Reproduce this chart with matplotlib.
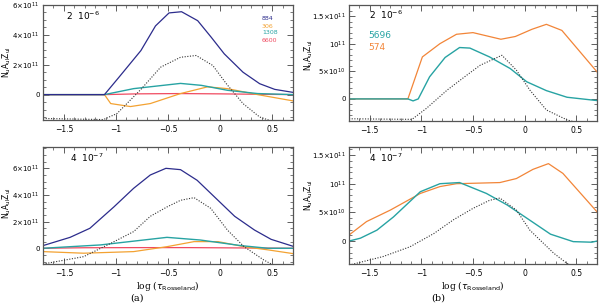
import numpy as np
import matplotlib
matplotlib.use('Agg')
import matplotlib.pyplot as plt
from matplotlib.ticker import MultipleLocator, FixedLocator, FixedFormatter

# ---- panel (a), top: 2 10^-6 ----
a1_blue_x = [-1.7, -1.11, -0.97, -0.76, -0.62, -0.49, -0.37, -0.215, -0.085, 0.04, 0.22, 0.38, 0.525, 0.7]
a1_blue_y = [0, 0, 1.17e11, 2.95e11, 4.6e11, 5.47e11, 5.55e11, 4.95e11, 3.84e11, 2.73e11, 1.5e11, 7.3e10, 3.5e10, 1.5e10]
a1_orange_x = [-1.7, -1.11, -1.05, -0.86, -0.67, -0.38, -0.12, 0.07, 0.36, 0.7]
a1_orange_y = [0, 0, -6e10, -8e10, -6e10, 7e9, 5.2e10, 4e10, 0, -4.2e10]
a1_teal_x = [-1.7, -1.11, -0.83, -0.38, -0.18, 0.07, 0.36, 0.7]
a1_teal_y = [0, 0, 4e10, 7.5e10, 6.2e10, 2.9e10, 7e9, 0]
a1_red_x = [-1.7, -1.1, -0.8, -0.4, 0.0, 0.4, 0.7]
a1_red_y = [0, 0, 5e9, 7e9, 5e9, 2e9, 0]
a1_dot_x = [-1.7, -1.12, -0.99, -0.76, -0.57, -0.38, -0.23, -0.07, 0.06, 0.22, 0.38, 0.49, 0.6]
a1_dot_y = [-1.6e11, -1.67e11, -1.27e11, 3.5e10, 1.84e11, 2.5e11, 2.62e11, 1.95e11, 7.3e10, -6e10, -1.5e11, -1.76e11, -1.9e11]

# ---- panel (a), bottom: 4 10^-7 ----
a2_blue_x = [-1.7, -1.44, -1.25, -1.02, -0.83, -0.67, -0.52, -0.38, -0.22, -0.06, 0.14, 0.33, 0.49, 0.7]
a2_blue_y = [2e10, 8.2e10, 1.5e11, 3.1e11, 4.5e11, 5.5e11, 6e11, 5.9e11, 5.1e11, 3.9e11, 2.4e11, 1.37e11, 6.7e10, 1.5e10]
a2_orange_x = [-1.7, -1.31, -0.83, -0.51, -0.25, -0.02, 0.23, 0.46, 0.7]
a2_orange_y = [-2.5e10, -3.7e10, -2.5e10, 1.2e10, 5e10, 5e10, 1.2e10, -1.2e10, -4e10]
a2_teal_x = [-1.7, -1.15, -0.51, -0.19, 0.2, 0.46, 0.7]
a2_teal_y = [0, 2.5e10, 8.2e10, 6.2e10, 2e10, 0, 0]
a2_red_x = [-1.7, -1.3, -0.8, -0.3, 0.3, 0.7]
a2_red_y = [0, 4e9, 5e9, 5e9, 2e9, 0]
a2_dot_x = [-1.7, -1.31, -1.05, -0.83, -0.67, -0.51, -0.38, -0.25, -0.09, 0.07, 0.23, 0.42, 0.52]
a2_dot_y = [-1.18e11, -6.3e10, 3.7e10, 1.25e11, 2.4e11, 3.1e11, 3.6e11, 3.8e11, 3e11, 1.37e11, 1.2e10, -8.8e10, -1.3e11]

# ---- panel (b), top: 2 10^-6 ----
b1_orange_x = [-1.7, -1.13, -0.99, -0.82, -0.66, -0.5, -0.23, -0.09, 0.07, 0.21, 0.36, 0.7]
b1_orange_y = [0, 0, 7.6e10, 1.0e11, 1.17e11, 1.2e11, 1.08e11, 1.13e11, 1.26e11, 1.35e11, 1.24e11, 4.9e10]
b1_teal_x = [-1.7, -1.13, -1.08, -1.03, -0.92, -0.77, -0.63, -0.53, -0.34, -0.14, 0.02, 0.21, 0.41, 0.7]
b1_teal_y = [0, 0, -3.6e9, 0, 4e10, 7.5e10, 9.3e10, 9.2e10, 7.6e10, 5.5e10, 3.1e10, 1.5e10, 3e9, -3e9]
b1_dot_x = [-1.7, -1.09, -0.95, -0.75, -0.56, -0.43, -0.22, -0.08, 0.05, 0.21, 0.41, 0.55]
b1_dot_y = [-3.6e10, -3.7e10, -1.7e10, 1.6e10, 4.3e10, 6.1e10, 7.9e10, 5.2e10, 1.6e10, -2e10, -3.8e10, -4.5e10]

# ---- panel (b), bottom: 4 10^-7 ----
b2_orange_x = [-1.7, -1.53, -1.3, -1.01, -0.82, -0.66, -0.24, -0.08, 0.08, 0.23, 0.37, 0.7]
b2_orange_y = [1.05e10, 3.4e10, 5.4e10, 8.3e10, 9.5e10, 1e11, 1.02e11, 1.09e11, 1.25e11, 1.35e11, 1.18e11, 5.1e10]
b2_teal_x = [-1.7, -1.59, -1.43, -1.27, -1.01, -0.82, -0.63, -0.37, -0.17, 0.02, 0.25, 0.47, 0.65, 0.7]
b2_teal_y = [0, 5e9, 1.9e10, 4.2e10, 8.6e10, 1e11, 1.02e11, 8.3e10, 6.3e10, 4e10, 1.2e10, -1e9, -2e9, 0]
b2_dot_x = [-1.7, -1.37, -1.11, -0.88, -0.69, -0.5, -0.34, -0.24, -0.08, 0.05, 0.28, 0.41, 0.5]
b2_dot_y = [-4.2e10, -2.7e10, -1e10, 1.3e10, 3.7e10, 5.7e10, 7.1e10, 7.5e10, 5.4e10, 1.9e10, -2.1e10, -3.9e10, -4.5e10]

left_labels = ['884', '306', '1308', '6600']
right_labels = ['5696', '574']

BLUE = '#2c2c8c'
ORANGE = '#f3a232'
TEAL = '#27a3a3'
RED = '#f04a60'
ORANGE2 = '#f28538'
DOT = '#333333'

W, H = 600, 304
fig = plt.figure(figsize=(W / 100, H / 100), dpi=100)


def px_axes(x0, x1, y0, y1):
    return fig.add_axes([x0 / W, 1 - y1 / H, (x1 - x0) / W, (y1 - y0) / H])


def style(ax, ylim, ymajor, yminor, ylabels, xlabels=True):
    ax.set_xlim(-1.7, 0.7)
    ax.set_ylim(*ylim)
    ax.xaxis.set_minor_locator(MultipleLocator(0.1))
    ax.yaxis.set_major_locator(FixedLocator(ymajor))
    ax.yaxis.set_major_formatter(FixedFormatter(ylabels))
    ax.yaxis.set_minor_locator(MultipleLocator(yminor))
    ax.tick_params(which='both', direction='in', top=True, right=True,
                   labelsize=5, color='#444444', pad=2.5)
    ax.tick_params(axis='x', labelsize=5.5, pad=3.5)
    ax.tick_params(which='major', length=4, width=0.6)
    ax.tick_params(which='minor', length=2, width=0.5)
    ax.set_xticks([-1.5, -1, -0.5, 0, 0.5])
    ax.set_xticklabels(['\u22121.5', '\u22121', '\u22120.5', '0', '0.5'])
    for s in ax.spines.values():
        s.set_color('#555555')
        s.set_linewidth(0.9)
    if xlabels:
        ax.set_xlabel(r'log ($\tau_{\mathrm{Rosseland}}$)', fontsize=6.5, family='DejaVu Serif', labelpad=0.5)


def ylab(x, y):
    fig.text(x / W, 1 - y / H, r'$\mathregular{N_u A_{ul} Z_{ul}}$', rotation=90,
             ha='center', va='center', fontsize=5.5)


def dotted(ax, x, y):
    ax.plot(x, y, color=DOT, lw=0.8, linestyle=(0, (1, 1.4)))


# panel (a) top
ax = px_axes(43, 293, 5, 120)
ax.plot(a1_red_x, a1_red_y, color=RED, lw=0.9)
ax.plot(a1_orange_x, a1_orange_y, color=ORANGE, lw=0.9)
ax.plot(a1_teal_x, a1_teal_y, color=TEAL, lw=1.0)
ax.plot(a1_blue_x, a1_blue_y, color=BLUE, lw=0.9)
dotted(ax, a1_dot_x, a1_dot_y)
style(ax, (-1.7e11, 6e11), [0, 2e11, 4e11, 6e11], 5e10,
      ['0', r'$2{\times}10^{11}$', r'$4{\times}10^{11}$', r'$6{\times}10^{11}$'], xlabels=False)
ax.text(0.09, 0.87, r'2  10$^{-6}$', transform=ax.transAxes, fontsize=6.5)
for lab, col, yy in zip(left_labels, [BLUE, ORANGE, TEAL, RED], [18, 26, 33, 41]):
    fig.text(262 / W, 1 - yy / H, lab, color=col, fontsize=4.5, va='center')
ylab(7, 62)

# panel (a) bottom
ax = px_axes(43, 293, 147, 264)
ax.plot(a2_red_x, a2_red_y, color=RED, lw=0.9)
ax.plot(a2_orange_x, a2_orange_y, color=ORANGE, lw=0.9)
ax.plot(a2_teal_x, a2_teal_y, color=TEAL, lw=1.0)
ax.plot(a2_blue_x, a2_blue_y, color=BLUE, lw=0.9)
dotted(ax, a2_dot_x, a2_dot_y)
style(ax, (-1.18e11, 7.6e11), [0, 2e11, 4e11, 6e11], 5e10,
      ['0', r'$2{\times}10^{11}$', r'$4{\times}10^{11}$', r'$6{\times}10^{11}$'])
ax.text(0.11, 0.87, r'4  10$^{-7}$', transform=ax.transAxes, fontsize=6.5)
ylab(7, 203)

# panel (b) top
ax = px_axes(349, 597, 5, 121)
ax.plot(b1_orange_x, b1_orange_y, color=ORANGE2, lw=0.9)
ax.plot(b1_teal_x, b1_teal_y, color=TEAL, lw=1.0)
dotted(ax, b1_dot_x, b1_dot_y)
style(ax, (-4e10, 1.7e11), [0, 5e10, 1e11, 1.5e11], 1e10,
      ['0', r'$5{\times}10^{10}$', r'$10^{11}$', r'$1.5{\times}10^{11}$'], xlabels=False)
ax.text(0.08, 0.88, r'2  10$^{-6}$', transform=ax.transAxes, fontsize=6.5)
for lab, col, yy in zip(right_labels, [TEAL, ORANGE2], [36, 48]):
    fig.text(368 / W, 1 - yy / H, lab, color=col, fontsize=6.5, va='center')
ylab(309, 55)

# panel (b) bottom
ax = px_axes(349, 597, 147, 264)
ax.plot(b2_orange_x, b2_orange_y, color=ORANGE2, lw=0.9)
ax.plot(b2_teal_x, b2_teal_y, color=TEAL, lw=1.0)
dotted(ax, b2_dot_x, b2_dot_y)
style(ax, (-4e10, 1.64e11), [0, 5e10, 1e11, 1.5e11], 1e10,
      ['0', r'$5{\times}10^{10}$', r'$10^{11}$', r'$1.5{\times}10^{11}$'])
ax.text(0.08, 0.87, r'4  10$^{-7}$', transform=ax.transAxes, fontsize=6.5)
ylab(309, 195)

fig.text(137 / W, 1 - 298 / H, '(a)', ha='center', va='center', fontsize=7, family='DejaVu Serif')
fig.text(438 / W, 1 - 298 / H, '(b)', ha='center', va='center', fontsize=7, family='DejaVu Serif')

fig.savefig('out.png', dpi=100)
